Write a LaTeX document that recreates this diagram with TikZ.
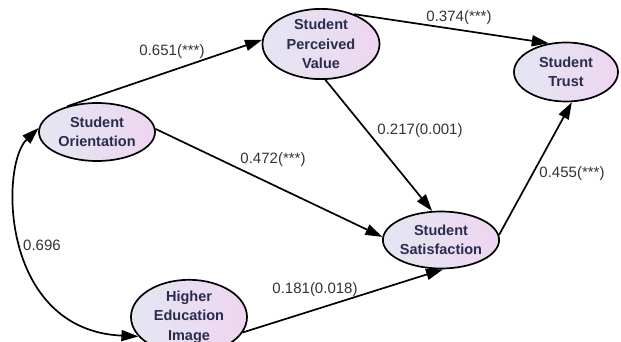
\documentclass[tikz,border=0pt]{standalone}
\usepackage{fontspec}
\setmainfont{Liberation Sans}
\usetikzlibrary{shapes.geometric,arrows.meta}
\definecolor{ellL}{HTML}{E4E6F2}
\definecolor{ellR}{HTML}{EED6F0}
\definecolor{nodetext}{HTML}{2A2C4E}
\definecolor{labtext}{HTML}{35332E}
\tikzset{
  construct/.style={ellipse, draw=black, line width=1.7pt, left color=ellL, right color=ellR,
    inner sep=0pt, align=center, text=nodetext,
    font=\fontsize{14.5}{19.5}\selectfont\bfseries},
  path/.style={line width=1.7pt, -{Triangle[length=17pt,width=11pt]}},
  coef/.style={font=\fontsize{15}{18}\selectfont, text=labtext, inner sep=0pt}
}
\begin{document}
\begin{tikzpicture}[x=1pt,y=-1pt]
\useasboundingbox (0,0) rectangle (621,342);
\clip (0,0) rectangle (621,342);
\node[construct, minimum width=116pt, minimum height=58pt] (so) at (97,132) {Student\\Orientation};
\node[construct, minimum width=117pt, minimum height=62pt] (spv) at (321,44) {Student\\Perceived\\Value};
\node[construct, minimum width=104pt, minimum height=59pt] (st) at (566,72) {Student\\Trust};
\node[construct, minimum width=116pt, minimum height=57pt] (ss) at (441,240) {Student\\Satisfaction};
\node[construct, minimum width=116pt, minimum height=60pt] (hei) at (189,317) {Higher\\Education\\Image};

\draw[path] (so.139) -- (spv.176);
\draw[path] (spv.42) -- (st.121);
\draw[path] (spv.-83) -- (ss.107);
\draw[path] (so.3) -- (ss.177);
\draw[path] (ss.5) -- (st.-79);
\draw[path] (hei.-16) -- (ss.-86);
\draw[line width=1.7pt, {Triangle[length=17pt,width=11pt]}-{Triangle[length=17pt,width=11pt]}]
  (so.176) .. controls (0,165) and (0,330) .. (hei.201);

\node[coef] (l1) at (172,52) {0.651(***)};
\node[coef] (l2) at (459,18) {0.374(***)};
\node[coef] (l3) at (420,131) {0.217(0.001)};
\node[coef] (l4) at (273,160) {0.472(***)};
\node[coef] (l5) at (572,174) {0.455(***)};
\node[coef] (l6) at (315,290) {0.181(0.018)};
\node[coef] (l7) at (42,245) {0.696};
\end{tikzpicture}
\end{document}
